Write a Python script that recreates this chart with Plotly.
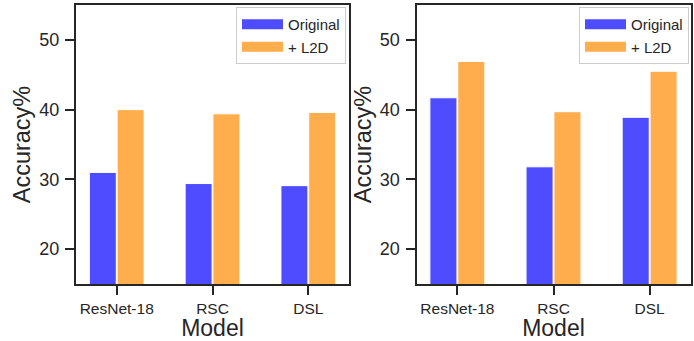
import plotly.graph_objects as go

models = ["ResNet-18", "RSC", "DSL"]
left_original = [31.0, 29.4, 29.1]
left_l2d = [40.0, 39.4, 39.6]
right_original = [41.7, 31.8, 38.9]
right_l2d = [46.9, 39.7, 45.5]
y_ticks = [20, 30, 40, 50]
series_names = ["Original", "+ L2D"]

BLUE = "rgb(77,77,255)"
ORANGE = "rgb(255,173,77)"
INK = "rgb(38,38,38)"
FONT = "Liberation Sans, Arial, sans-serif"

fig = go.Figure()

panels = [("x", "y", left_original, left_l2d, "legend"),
          ("x2", "y2", right_original, right_l2d, "legend2")]
for xa, ya, orig, l2d, lg in panels:
    for name, vals, col in [(series_names[0], orig, BLUE), (series_names[1], l2d, ORANGE)]:
        fig.add_trace(go.Bar(x=models, y=vals, name=name, xaxis=xa, yaxis=ya,
                             marker=dict(color=col, line=dict(color="white", width=1)),
                             showlegend=False, hoverinfo="skip"))
    for name, col in [(series_names[0], BLUE), (series_names[1], ORANGE)]:
        fig.add_trace(go.Scatter(x=[None], y=[None], mode="lines", name=name,
                                 xaxis=xa, yaxis=ya, legend=lg,
                                 line=dict(color=col, width=12)))

W, H = 694, 341
ydom = [1 - 284 / H, 1 - 5 / H]

def xax(dom, anchor):
    return dict(domain=dom, anchor=anchor, range=[-0.425, 2.425], showline=True, mirror=True,
                linecolor=INK, linewidth=2, ticks="outside", ticklen=9, tickwidth=2,
                tickcolor=INK, tickfont=dict(size=15.5, color=INK, family=FONT),
                title=dict(text="Model", font=dict(size=23, color=INK, family=FONT), standoff=4),
                showgrid=False, zeroline=False)

def yax(anchor):
    return dict(domain=ydom, range=[15, 55], tickvals=y_ticks, anchor=anchor,
                showline=True, mirror=True, linecolor=INK, linewidth=2,
                ticks="outside", ticklen=9, tickwidth=2, tickcolor=INK,
                tickfont=dict(size=18, color=INK, family=FONT), ticklabelstandoff=2,
                title=dict(text="Accuracy%", font=dict(size=23.5, color=INK, family=FONT), standoff=2),
                showgrid=False, zeroline=False)

def leg(xr):
    return dict(x=xr, y=1 - 7 / H, xanchor="right", yanchor="top",
                bgcolor="white", bordercolor="rgb(204,204,204)", borderwidth=1,
                font=dict(size=15, color=INK, family=FONT), itemwidth=41,
                tracegroupgap=0)

fig.update_layout(
    width=W, height=H, margin=dict(l=0, r=0, t=0, b=0),
    paper_bgcolor="white", plot_bgcolor="white",
    barmode="group", bargap=0.42, bargroupgap=0.03,
    font=dict(family=FONT, color=INK),
    xaxis=xax([76 / W, 349 / W], "y"),
    xaxis2=xax([416.5 / W, 690.5 / W], "y2"),
    yaxis=yax("x"),
    yaxis2=yax("x2"),
    legend=leg(346 / W),
    legend2=leg(689 / W),
)

fig.write_html("out.html", config={"displayModeBar": False},
               post_script="document.body.style.margin='0';")
